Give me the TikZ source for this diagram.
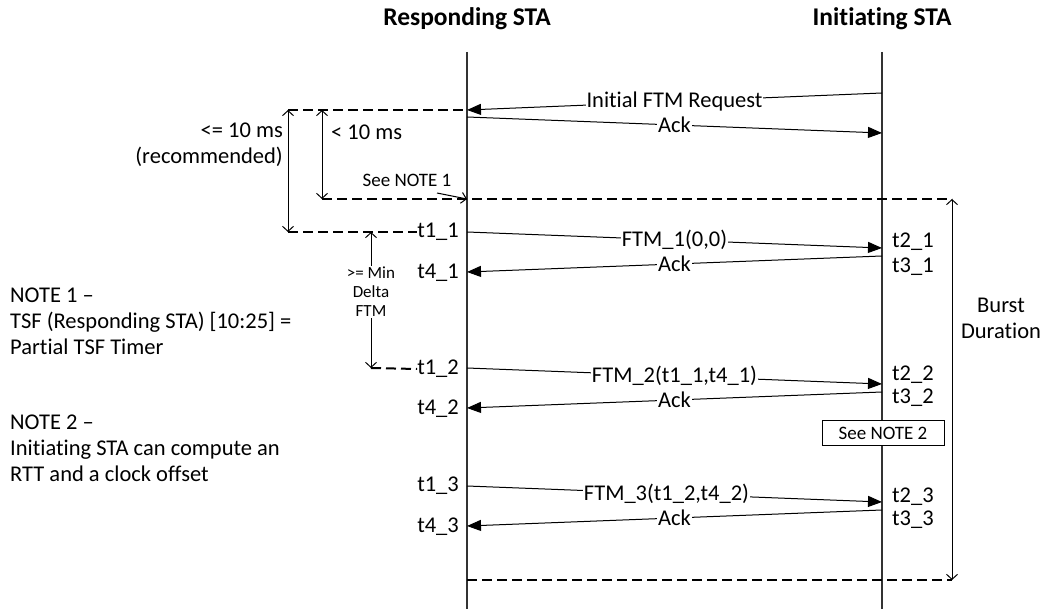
\documentclass[tikz,border=0pt]{standalone}
\usepackage{fontspec}
\setmainfont{Carlito}[Ligatures={TeX,NoCommon}]
\usetikzlibrary{arrows.meta}
\begin{document}
\begin{tikzpicture}[x=1pt,y=-1pt,
  life/.style={line width=1.4pt,black!80},
  msg/.style={line width=1pt,-{Triangle[length=14pt,width=11pt]}},
  lab/.style={fill=white,inner sep=1pt,font=\fontsize{22.5}{26}\selectfont},
  txt/.style={inner sep=0pt,font=\fontsize{22.5}{26}\selectfont},
  hdr/.style={inner sep=0pt,font=\fontsize{25.5}{28}\selectfont\bfseries},
  small/.style={inner sep=0pt,font=\fontsize{19}{22}\selectfont},
  tiny/.style={fill=white,inner sep=1pt,align=center,font=\fontsize{17}{20}\selectfont},
  dsh/.style={line width=2pt,dash pattern=on 10pt off 5pt},
  dim/.style={line width=1pt,{Straight Barb[length=5pt,width=11pt]}-{Straight Barb[length=5pt,width=11pt]}},
  dimtip/.style={line width=1pt,-{Straight Barb[length=5pt,width=11pt]}}
]
\useasboundingbox (0,0) rectangle (1044,609);

% headers
\node[hdr] (hR) at (467,19) {Responding STA};
\node[hdr] (hI) at (882,19) {Initiating STA};

% lifelines
\coordinate (R0) at (467,52); \coordinate (R1) at (467,609);
\coordinate (I0) at (882,52); \coordinate (I1) at (882,609);
\draw[life] (R0) -- (R1);
\draw[life] (I0) -- (I1);

% time labels
\node[txt,anchor=east] (t11) at (459,232) {t1\_1};
\node[txt,anchor=east] (t41) at (459,273) {t4\_1};
\node[txt,anchor=east] (t12) at (459,369) {t1\_2};
\node[txt,anchor=east] (t42) at (459,409) {t4\_2};
\node[txt,anchor=east] (t13) at (459,486) {t1\_3};
\node[txt,anchor=east] (t43) at (459,527) {t4\_3};
\node[txt,anchor=west] (t21) at (892,242) {t2\_1};
\node[txt,anchor=west] (t31) at (892,267) {t3\_1};
\node[txt,anchor=west] (t22) at (892,375) {t2\_2};
\node[txt,anchor=west] (t32) at (892,398) {t3\_2};
\node[txt,anchor=west] (t23) at (892,497) {t2\_3};
\node[txt,anchor=west] (t33) at (892,520) {t3\_3};

% message end points
\coordinate (q1) at (882,93);  \coordinate (q2) at (467,110);
\coordinate (a01) at (467,117); \coordinate (a02) at (882,133);
\coordinate (f11) at (467,232); \coordinate (f12) at (882,248);
\coordinate (a11) at (882,256); \coordinate (a12) at (467,272);
\coordinate (f21) at (467,368); \coordinate (f22) at (882,384);
\coordinate (a21) at (882,392); \coordinate (a22) at (467,408);
\coordinate (f31) at (467,486); \coordinate (f32) at (882,502);
\coordinate (a31) at (882,510); \coordinate (a32) at (467,526);

% dimension coordinates
\coordinate (d1t) at (288,110); \coordinate (d1b) at (288,232);
\coordinate (d2t) at (322,110); \coordinate (d2b) at (322,199);
\coordinate (d3t) at (371,232); \coordinate (d3b) at (371,368);
\coordinate (bt) at (952,199);  \coordinate (bb) at (952,580);
\coordinate (bl) at (467,580);

% dashed lines
\draw[dsh] (d1t) -- (q2);
\draw[dsh] (d2b) -- (bt);
\draw[dsh] (d1b) -- (t11.west);
\draw[dsh] (d3b) -- (t12.west);
\draw[dsh] (bl) -- (bb);

% dimension arrows
\draw[dim] (d1t) -- (d1b);
\draw[dim] (d2t) -- (d2b);
\draw[dim] (d3t) -- (d3b);
\draw[dim] (bt) -- (bb);
\node[tiny] (mdf) at (371,292) {>= Min\\[-1pt]Delta\\[-1pt]FTM};

% messages
\draw[msg] (q1) -- node[lab] (lq) {Initial FTM Request} (q2);
\draw[msg] (a01) -- node[lab] (la0) {Ack} (a02);
\draw[msg] (f11) -- node[lab] (lf1) {FTM\_1(0,0)} (f12);
\draw[msg] (a11) -- node[lab] (la1) {Ack} (a12);
\draw[msg] (f21) -- node[lab] (lf2) {FTM\_2(t1\_1,t4\_1)} (f22);
\draw[msg] (a21) -- node[lab] (la2) {Ack} (a22);
\draw[msg] (f31) -- node[lab,xshift=-8pt] (lf3) {FTM\_3(t1\_2,t4\_2)} (f32);
\draw[msg] (a31) -- node[lab] (la3) {Ack} (a32);

% other texts
\node[txt,anchor=east,align=right] (rec) at (283,145) {<= 10 ms\\(recommended)};
\node[txt,anchor=west] (lt10) at (331,132) {< 10 ms};
\node[small] (sn1) at (407,180) {See NOTE 1};
\coordinate (sn1a) at (437,193);
\coordinate (sn1b) at (467,199);
\draw[dimtip] (sn1a) -- (sn1b);
\node[draw,fill=white,line width=1pt,minimum width=122pt,minimum height=25pt,inner sep=0pt,font=\fontsize{19}{22}\selectfont] (sn2) at (883,433) {See NOTE 2};
\node[txt,align=center] (burst) at (1001,318) {Burst\\Duration};

\node[txt,anchor=west,align=left] (n1) at (10,321) {NOTE 1 --\\TSF (Responding STA) [10:25] =\\Partial TSF Timer};
\node[txt,anchor=west,align=left] (n2) at (10,448) {NOTE 2 --\\Initiating STA can compute an\\RTT and a clock offset};
\end{tikzpicture}
\end{document}
